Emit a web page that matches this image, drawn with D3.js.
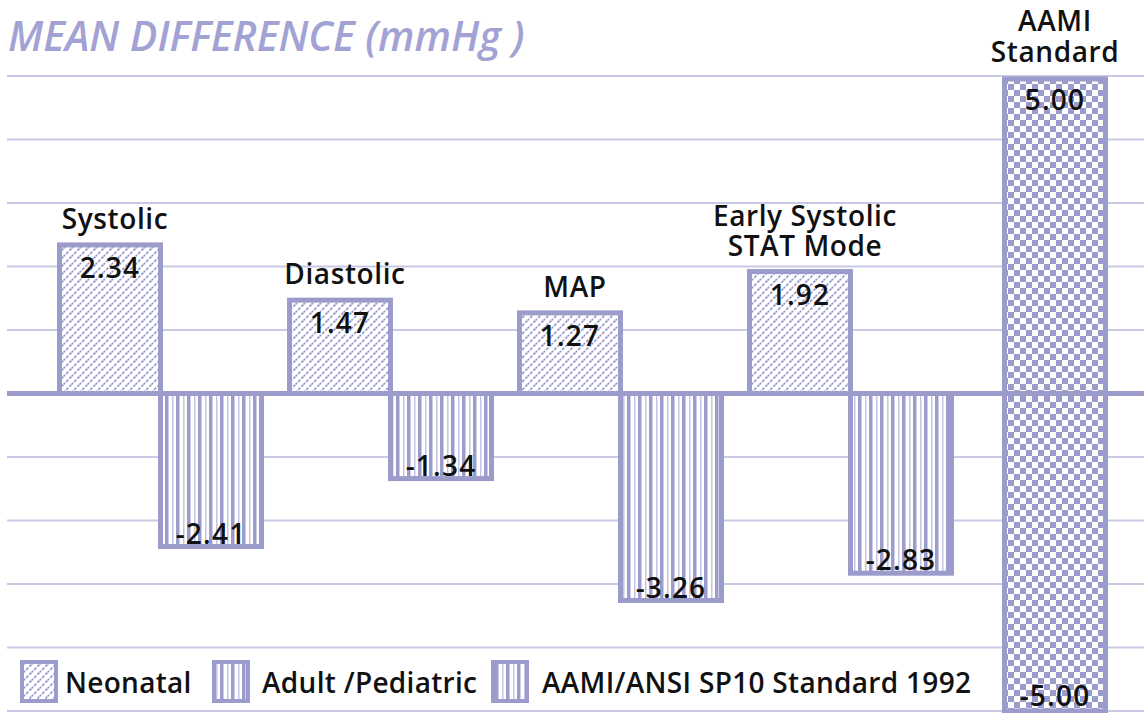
<!DOCTYPE html>
<html>
<head>
<meta charset="utf-8">
<script src="https://cdn.jsdelivr.net/npm/d3@7"></script>
<style>
  html, body { margin: 0; padding: 0; background: #fff; }
  svg { display: block; }
  text { font-family: "Open Sans", "Noto Sans", sans-serif; }
</style>
</head>
<body>
<div id="chart"></div>
<script>
// ---- data ----
const categories = ["Systolic", "Diastolic", "MAP", "Early Systolic STAT Mode"];
const categoryLines = [["Systolic"], ["Diastolic"], ["MAP"], ["Early Systolic", "STAT Mode"]];
const neonatal = [2.34, 1.47, 1.27, 1.92];
const adultPediatric = [-2.41, -1.34, -3.26, -2.83];
const aamiCategory = ["AAMI Standard"];
const aamiLines = ["AAMI", "Standard"];
const aamiStandard = [5.00, -5.00];
const yTicks = [-5, -4, -3, -2, -1, 0, 1, 2, 3, 4, 5];
const legendLabels = ["Neonatal", "Adult /Pediatric", "AAMI/ANSI SP10 Standard 1992"];
const titleText = "MEAN DIFFERENCE (mmHg )";

// ---- setup ----
const W = 1144, H = 713;
const C = "#9b9bcc", GRID = "#c9c9e6";
const svg = d3.select("#chart").append("svg").attr("width", W).attr("height", H);
const defs = svg.append("defs");

// patterns
const pN = defs.append("pattern").attr("id", "pNeo").attr("patternUnits", "userSpaceOnUse")
  .attr("width", 8).attr("height", 8);
pN.append("rect").attr("width", 8).attr("height", 8).attr("fill", "#fff");
pN.append("path").attr("d", "M-1,9 L9,-1 M-5,5 L5,-5 M3,13 L13,3").attr("stroke", C)
  .attr("stroke-width", 1.7).attr("stroke-dasharray", "3,1.5");

const pA = defs.append("pattern").attr("id", "pAdult").attr("patternUnits", "userSpaceOnUse")
  .attr("width", 11).attr("height", 10);
pA.append("rect").attr("width", 11).attr("height", 10).attr("fill", "#fff");
pA.append("rect").attr("x", 0).attr("width", 3.5).attr("height", 10).attr("fill", C);
pA.append("rect").attr("x", 7).attr("width", 1.5).attr("height", 10).attr("fill", "#c4c4e4");

const pC = defs.append("pattern").attr("id", "pAami").attr("patternUnits", "userSpaceOnUse")
  .attr("width", 12).attr("height", 12);
pC.append("rect").attr("width", 12).attr("height", 12).attr("fill", "#fff");
pC.append("rect").attr("width", 6).attr("height", 6).attr("fill", C);
pC.append("rect").attr("x", 6).attr("y", 6).attr("width", 6).attr("height", 6).attr("fill", C);

// scales
const y = d3.scaleLinear().domain([-5, 5]).range([711, 76]);
const x = d3.scaleBand().domain(categories).range([45.5, 965.5]).paddingInner(0.1217).paddingOuter(0.0609);
const xs = d3.scaleBand().domain(["Neonatal", "Adult"]).range([0, x.bandwidth()]);
const xa = d3.scaleBand().domain(aamiCategory).range([1004.5, 1105.5]);

// gridlines
svg.append("g").selectAll("line").data(yTicks.filter(d => d !== 0)).join("line")
  .attr("x1", 7).attr("x2", W).attr("y1", d => y(d)).attr("y2", d => y(d))
  .attr("stroke", GRID).attr("stroke-width", 2.2);

// title
svg.append("text").attr("x", 8).attr("y", 51).attr("font-size", 41).attr("font-style", "italic")
  .attr("font-weight", 600).attr("fill", "#a2a2d4").text(titleText);

// bars
const neoData = categories.map((c, i) => ({ c, v: neonatal[i] }));
const adData = categories.map((c, i) => ({ c, v: adultPediatric[i] }));
const bars = svg.append("g");
bars.selectAll(".neo").data(neoData).join("rect")
  .attr("x", d => x(d.c) + xs("Neonatal")).attr("width", xs.bandwidth())
  .attr("y", d => y(Math.max(0, d.v))).attr("height", d => Math.abs(y(d.v) - y(0)))
  .attr("fill", "url(#pNeo)").attr("stroke", C).attr("stroke-width", 5);
bars.selectAll(".ad").data(adData).join("rect")
  .attr("x", d => x(d.c) + xs("Adult")).attr("width", xs.bandwidth())
  .attr("y", d => y(Math.max(0, d.v))).attr("height", d => Math.abs(y(d.v) - y(0)))
  .attr("fill", "url(#pAdult)").attr("stroke", C).attr("stroke-width", 5);
bars.selectAll(".aami").data(aamiStandard).join("rect")
  .attr("x", xa(aamiCategory[0])).attr("width", xa.bandwidth())
  .attr("y", d => y(Math.max(0, d)) + (d > 0 ? 3 : 0)).attr("height", d => Math.abs(y(d) - y(0)) - (d > 0 ? 3 : 0))
  .attr("fill", "url(#pAami)").attr("stroke", C).attr("stroke-width", 5);

// zero line
svg.append("line").attr("x1", 7).attr("x2", W).attr("y1", y(0)).attr("y2", y(0))
  .attr("stroke", C).attr("stroke-width", 5);

// value labels
const fmt = v => d3.format(".2f")(v).replace("\u2212", "-");
const labG = svg.append("g").attr("font-size", 28).attr("font-weight", 600).attr("fill", "#111")
  .attr("text-anchor", "middle").attr("letter-spacing", 1.2);
labG.selectAll(".vn").data(neoData).join("text")
  .attr("x", d => x(d.c) + xs("Neonatal") + xs.bandwidth() / 2).attr("y", d => y(d.v) + 33).text(d => fmt(d.v));
labG.selectAll(".va").data(adData).join("text")
  .attr("x", d => x(d.c) + xs("Adult") + xs.bandwidth() / 2).attr("y", d => y(d.v) - 3).text(d => fmt(d.v));
labG.selectAll(".vaa").data(aamiStandard).join("text")
  .attr("x", xa(aamiCategory[0]) + xa.bandwidth() / 2)
  .attr("y", d => d > 0 ? y(d) + 34 : y(d) - 5).text(d => fmt(d));

// category labels
const catG = svg.append("g").attr("font-size", 28).attr("font-weight", 600).attr("fill", "#111")
  .attr("text-anchor", "middle").attr("letter-spacing", 0.6);
categories.forEach((c, i) => {
  const lines = categoryLines[i];
  const cx = x(c) + xs("Neonatal") + xs.bandwidth() / 2 + 5;
  const base = y(neonatal[i]) - 16;
  lines.forEach((ln, j) => {
    catG.append("text").attr("x", cx).attr("y", base - (lines.length - 1 - j) * 30).text(ln);
  });
});
aamiLines.forEach((ln, j) => {
  catG.append("text").attr("x", xa(aamiCategory[0]) + xa.bandwidth() / 2).attr("y", 31 + j * 31).text(ln);
});

// legend
const legX = [20, 212, 491];
const legTextX = [65, 262, 542];
const legFills = ["url(#pNeo)", "url(#pAdult)", "url(#pAdult)"];
const leg = svg.append("g");
legendLabels.forEach((lab, i) => {
  leg.append("rect").attr("x", legX[i] + 2).attr("y", 662).attr("width", 34).attr("height", 39)
    .attr("fill", legFills[i]).attr("stroke", C).attr("stroke-width", 4);
  leg.append("text").attr("x", legTextX[i]).attr("y", 693).attr("font-size", 28).attr("font-weight", 600)
    .attr("letter-spacing", 0.3).attr("fill", "#111").text(lab);
});
</script>
</body>
</html>
